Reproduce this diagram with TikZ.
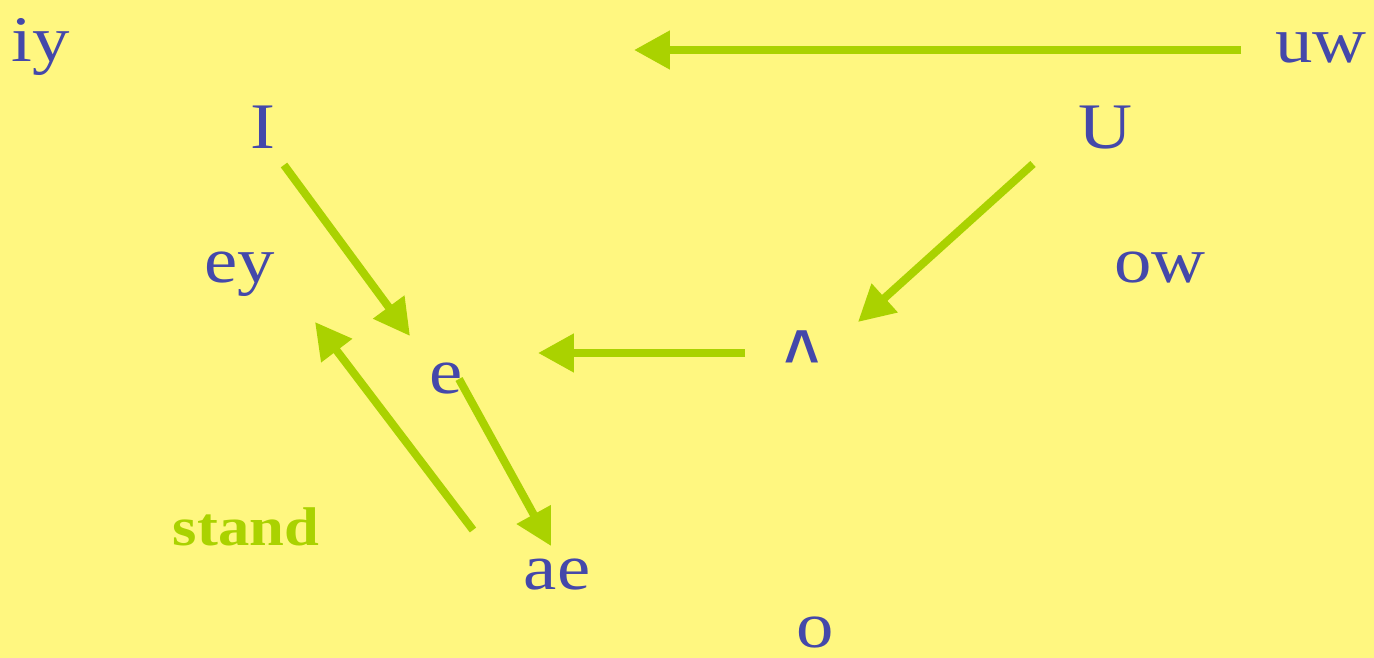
\documentclass[tikz,border=0pt]{standalone}
\usepackage{fontspec}
\setmainfont{Liberation Serif}[FakeStretch=1.15]
\newfontfamily\caretfont{Liberation Sans}
\usetikzlibrary{arrows.meta}

\definecolor{bgyellow}{RGB}{255,247,128}
\definecolor{vowelblue}{RGB}{68,72,170}
\definecolor{shiftgreen}{RGB}{170,210,0}

\begin{document}
\begin{tikzpicture}[
    x=0.02cm, y=-0.02cm,
    vowel/.style={anchor=base, inner sep=0pt, text=vowelblue, font=\fontsize{37}{40}\selectfont},
    tag/.style={anchor=base, inner sep=0pt, text=shiftgreen, font=\fontsize{31}{34}\selectfont\bfseries},
    shiftarr/.style={-{Triangle[length=0.72cm, width=0.74cm]}, shiftgreen, line width=0.16cm}
]
\fill[bgyellow] (0,0) rectangle (1374,658);
\useasboundingbox (0,0) rectangle (1374,658);

% vowel labels
\node[vowel] (iy) at (41,62) {iy};
\node[vowel] (uw) at (1321,63) {uw};
\node[vowel] (I) at (263,149) {I};
\node[vowel] (U) at (1105,149) {U};
\node[vowel] (ey) at (240,283) {ey};
\node[vowel] (ow) at (1160,283) {ow};
\node[vowel, font=\caretfont\bfseries\fontsize{42}{44}\selectfont] (wedge) at (802,382) {\scalebox{0.82}[1]{\^{}}};
\node[vowel] (e) at (446,394) {e};
\node[vowel] (ae) at (557,590) {ae};
\node[vowel] (o) at (815,648) {o};
\node[tag] (stand) at (246,546) {stand};

% arrow ends
\coordinate (uwstart) at (1241,50);
\coordinate (uwend) at (634,50);
\coordinate (Istart) at (284,165);
\coordinate (Iend) at (410,336);
\coordinate (Ustart) at (1033,164);
\coordinate (Uend) at (858,322);
\coordinate (wstart) at (745,353);
\coordinate (wend) at (538,353);
\coordinate (estart) at (459,379);
\coordinate (eend) at (551,546);
\coordinate (astart) at (473,530);
\coordinate (aend) at (315,322);

\draw[shiftarr] (uwstart) -- (uwend);
\draw[shiftarr] (Istart) -- (Iend);
\draw[shiftarr] (Ustart) -- (Uend);
\draw[shiftarr] (wstart) -- (wend);
\draw[shiftarr] (estart) -- (eend);
\draw[shiftarr] (astart) -- (aend);
\end{tikzpicture}
\end{document}
